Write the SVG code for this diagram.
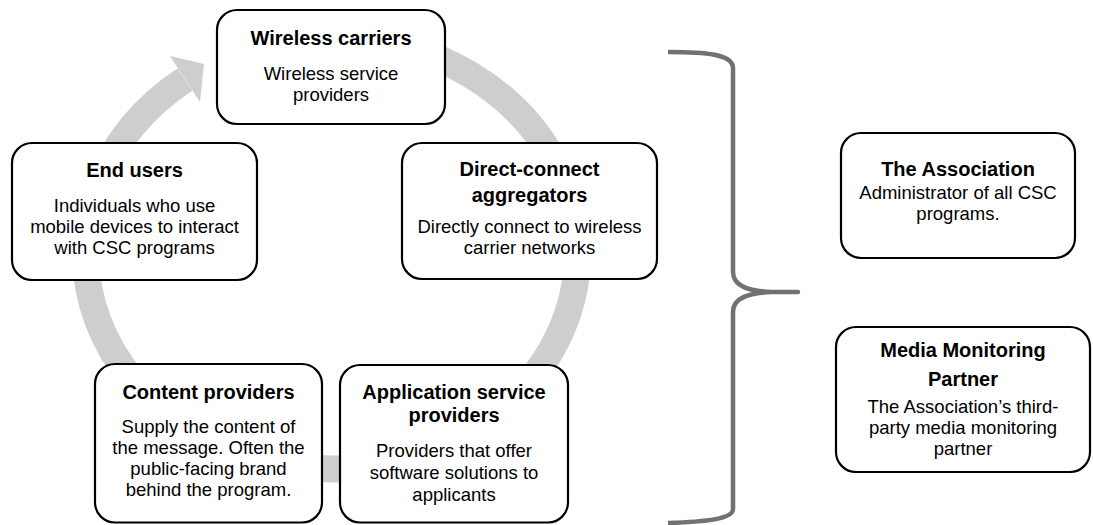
<svg xmlns="http://www.w3.org/2000/svg" width="1093" height="525" viewBox="0 0 1093 525">
<style>
.box{fill:#fff;stroke:#000;stroke-width:2.2}
.t{font-family:"Liberation Sans",Arial,sans-serif;font-size:20px;font-weight:bold;fill:#000;text-anchor:middle}
.b{font-family:"Liberation Sans",Arial,sans-serif;font-size:18.5px;fill:#000;text-anchor:middle}
.ring{fill:none;stroke:#cfcdcd;stroke-width:27}
.brace{fill:none;stroke:#767171;stroke-width:4.5;stroke-linejoin:round}
</style>
<rect width="1093" height="525" fill="#fff"/>
<g id="connectors">
<path class="ring" d="M240,52.5 A246,216 0 0 1 577.5,253 A246,216 0 0 1 331.5,469 A246,216 0 0 1 185,79.5"/>
<polygon points="170,56 204,64 200,102" fill="#cfcdcd"/>
<path class="brace" d="M668,52 C705,52 733,54 733,68 L733,272 C733,286 748,291 772,292 L798,292 L772,292 C748,293 733,298 733,312 L733,509 C733,519 705,522 668,523"/>
</g>
<g id="wireless-carriers">
<rect class="box" x="217" y="10" width="228" height="114" rx="20"/>
<text class="t" x="331" y="45">Wireless carriers</text>
<text class="b" x="331" y="80">Wireless service</text>
<text class="b" x="331" y="101">providers</text>
</g>
<g id="end-users">
<rect class="box" x="12" y="143" width="245" height="137" rx="20"/>
<text class="t" x="134.5" y="177">End users</text>
<text class="b" x="134.5" y="212">Individuals who use</text>
<text class="b" x="134.5" y="233">mobile devices to interact</text>
<text class="b" x="134.5" y="254">with CSC programs</text>
</g>
<g id="direct-connect">
<rect class="box" x="402" y="143" width="255" height="136" rx="20"/>
<text class="t" x="529.5" y="176">Direct-connect</text>
<text class="t" x="529.5" y="202">aggregators</text>
<text class="b" x="529.5" y="233">Directly connect to wireless</text>
<text class="b" x="529.5" y="254">carrier networks</text>
</g>
<g id="content-providers">
<rect class="box" x="95" y="364" width="227" height="158.5" rx="20"/>
<text class="t" x="208.5" y="399">Content providers</text>
<text class="b" x="208.5" y="433">Supply the content of</text>
<text class="b" x="208.5" y="454">the message. Often the</text>
<text class="b" x="208.5" y="475">public-facing brand</text>
<text class="b" x="208.5" y="496">behind the program.</text>
</g>
<g id="application-service-providers">
<rect class="box" x="340" y="365" width="228" height="157.5" rx="20"/>
<text class="t" x="454" y="399">Application service</text>
<text class="t" x="454" y="422">providers</text>
<text class="b" x="454" y="457">Providers that offer</text>
<text class="b" x="454" y="479">software solutions to</text>
<text class="b" x="454" y="501">applicants</text>
</g>
<g id="the-association">
<rect class="box" x="841" y="133" width="234" height="125" rx="20"/>
<text class="t" x="958" y="176">The Association</text>
<text class="b" x="958" y="199">Administrator of all CSC</text>
<text class="b" x="958" y="220">programs.</text>
</g>
<g id="media-monitoring-partner">
<rect class="box" x="836" y="327" width="254" height="145" rx="20"/>
<text class="t" x="963" y="357">Media Monitoring</text>
<text class="t" x="963" y="386">Partner</text>
<text class="b" x="963" y="413">The Association’s third-</text>
<text class="b" x="963" y="434">party media monitoring</text>
<text class="b" x="963" y="455">partner</text>
</g>
</svg>
